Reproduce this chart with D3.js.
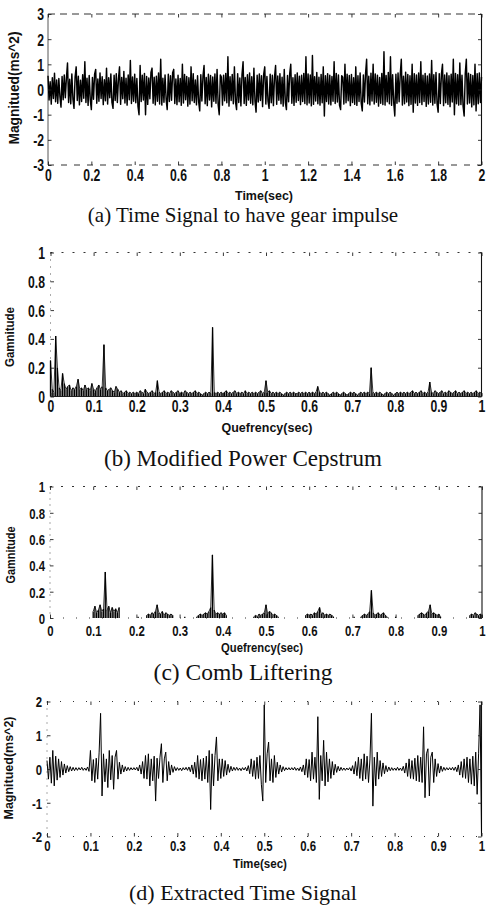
<!DOCTYPE html>
<html><head><meta charset="utf-8">
<script src="https://cdn.jsdelivr.net/npm/d3@7"></script>
<style>body{margin:0;background:#fff}svg{display:block}</style>
</head><body>
<svg id="c" width="486" height="910"></svg>
<script>
// (a) time signal, 0..2 s, sampled every 0.005 s
const timeSignal = [
0.55,-0.42,0.31,-0.58,0.47,-0.36,0.65,-0.49,0.38,-0.55,0.44,-0.29,-0.70,0.52,-0.41,0.58,-0.33,0.46,1.05,-0.52,
0.41,-0.57,0.62,-0.38,-0.75,0.49,0.90,-0.44,0.53,-0.61,0.37,-0.48,0.59,-0.35,1.10,-0.52,0.45,-0.63,0.56,-0.40,
-0.80,0.48,-0.39,0.61,0.80,-0.55,0.42,-0.47,0.66,-0.36,0.51,-0.60,0.39,-0.45,0.85,-0.58,0.47,-0.33,0.62,-0.51,
-0.75,0.57,-0.44,0.63,-0.52,0.41,0.90,-0.59,0.48,-0.37,0.72,-0.54,0.45,-0.62,0.58,-0.41,1.15,-0.56,0.50,-0.47,
0.61,-0.53,0.44,-0.66,-1.00,0.95,-0.48,0.57,-0.42,0.64,-1.00,0.52,-0.59,0.46,-0.37,0.68,0.85,-0.55,0.49,-0.61,
0.53,-0.47,0.66,-0.58,1.20,-0.62,0.45,-0.51,0.58,-0.39,-0.80,0.61,-0.48,0.55,-0.43,0.67,0.80,-0.56,0.42,-0.60,
0.57,-0.49,0.44,-0.63,1.00,-0.54,0.60,-0.41,0.52,-0.66,0.47,-0.58,0.90,-0.45,0.63,-0.52,0.38,-0.61,0.55,-0.48,
-0.85,0.59,-0.46,0.53,0.95,-0.57,0.48,-0.64,0.61,-0.42,0.56,-0.69,0.50,-0.47,0.62,-0.55,0.80,-0.60,-1.00,0.58,
0.49,-0.62,0.57,-0.45,0.64,-0.53,1.30,-0.66,0.51,-0.44,0.60,-0.57,0.90,-0.49,-0.80,0.63,-0.52,0.46,-0.65,0.58,
1.10,-0.56,0.48,-0.63,0.59,-0.42,0.66,-0.55,0.51,-0.61,0.85,-0.47,-0.90,0.57,-0.50,0.62,-0.44,0.55,-0.68,0.60,
0.90,-0.58,0.52,-0.46,-0.75,0.61,-0.53,0.57,-0.64,0.48,0.95,-0.59,0.54,-0.43,0.63,-0.57,0.49,-0.66,0.80,-0.52,
-0.80,0.56,-0.49,0.62,1.00,-0.55,0.47,-0.63,0.59,-0.51,0.66,-0.44,0.53,-0.60,0.57,-0.48,0.64,-0.56,1.30,-0.61,
0.62,-0.54,0.58,-0.65,1.35,-0.59,0.51,-0.46,0.68,-0.57,0.49,-0.62,0.60,-0.53,0.90,-1.05,0.55,-0.48,0.63,-0.58,
0.57,-0.61,0.52,-0.47,1.10,-0.56,0.64,-0.50,0.58,-0.63,-0.80,0.55,0.49,-0.58,1.00,-0.53,0.61,-0.45,0.56,-0.64,
0.60,-0.52,0.47,-0.59,0.90,-0.63,0.55,-0.48,0.66,-0.54,-0.85,0.58,-0.50,0.62,1.20,-0.57,0.53,-0.61,0.65,-0.46,
1.00,-0.58,0.62,-0.51,0.57,-0.66,0.48,-0.55,0.64,-0.60,1.50,-0.62,0.56,-0.49,0.68,-0.57,1.30,-0.63,0.59,-0.52,
-1.05,0.61,-0.55,0.66,-0.49,0.58,1.20,-0.62,0.53,-0.57,0.69,-0.50,0.60,-0.64,0.55,-0.59,1.00,-0.90,0.63,-0.54,
0.58,-0.63,0.66,-0.52,1.10,-0.60,0.57,-0.48,0.64,-0.67,0.54,-0.58,0.62,-0.51,1.15,-0.62,0.59,-0.55,0.68,-0.57,
-0.90,0.63,-0.56,0.60,1.00,-0.64,0.58,-0.53,0.66,-0.59,0.55,-0.68,0.61,-0.50,1.20,-1.00,0.64,-0.57,0.59,-0.62,
1.05,-0.60,0.57,-0.66,-1.05,0.62,1.20,-0.58,0.65,-0.54,0.60,-0.69,0.56,-0.61,1.00,-0.85,0.63,-0.57,0.66,-0.52,
0.50];

// (b) modified power cepstrum, 0..1 s, every 0.004 s
const cepstrum = [
0.25,0.05,0.03,0.42,0.20,0.06,0.04,0.16,0.09,0.05,0.07,0.08,0.04,0.06,0.05,0.07,0.12,0.05,0.06,0.04,0.08,0.05,0.06,0.04,0.09,
0.05,0.04,0.06,0.08,0.05,0.07,0.36,0.06,0.04,0.05,0.06,0.04,0.03,0.07,0.05,0.03,0.04,0.02,0.03,0.04,0.02,0.03,0.02,0.03,0.02,
0.03,0.02,0.04,0.03,0.02,0.05,0.03,0.02,0.03,0.04,0.02,0.03,0.11,0.03,0.02,0.03,0.04,0.02,0.03,0.02,0.04,0.03,0.02,0.03,0.04,
0.02,0.03,0.02,0.04,0.03,0.02,0.03,0.02,0.03,0.04,0.02,0.03,0.02,0.01,0.02,0.03,0.02,0.03,0.02,0.48,0.03,0.02,0.03,0.02,0.03,
0.02,0.03,0.04,0.02,0.03,0.02,0.03,0.04,0.02,0.03,0.02,0.03,0.02,0.04,0.02,0.03,0.02,0.03,0.02,0.03,0.02,0.03,0.04,0.02,0.03,
0.11,0.03,0.04,0.02,0.03,0.02,0.03,0.02,0.03,0.02,0.01,0.02,0.03,0.02,0.03,0.02,0.03,0.02,0.02,0.03,0.02,0.03,0.02,0.03,0.02,
0.03,0.02,0.03,0.02,0.03,0.07,0.03,0.02,0.03,0.02,0.03,0.02,0.01,0.02,0.03,0.02,0.03,0.02,0.01,0.02,0.03,0.02,0.01,0.02,0.03,
0.02,0.03,0.02,0.01,0.02,0.03,0.02,0.03,0.02,0.03,0.02,0.20,0.03,0.02,0.03,0.02,0.03,0.02,0.01,0.02,0.03,0.02,0.03,0.02,0.01,
0.02,0.03,0.02,0.03,0.02,0.03,0.02,0.03,0.02,0.03,0.04,0.02,0.03,0.02,0.03,0.04,0.02,0.03,0.02,0.03,0.10,0.03,0.02,0.04,0.03,
0.02,0.03,0.04,0.02,0.03,0.02,0.04,0.03,0.02,0.03,0.04,0.02,0.03,0.02,0.03,0.04,0.02,0.03,0.02,0.03,0.02,0.03,0.04,0.02,0.03,
0.02];

// (c) comb liftering, 0..1 s, every 0.004 s
const combLiftered = [
0,0,0,0,0,0,0,0,0,0,0,0,0,0,0,0,0,0,0,0,0,0,0,0,0,
0.05,0.09,0.04,0.06,0.10,0.05,0.07,0.35,0.06,0.09,0.04,0.08,0.05,0.07,0.04,0.08,0,0,0,0,0,0,0,0,0,
0,0.01,0,0,0,0,0.02,0.03,0.02,0.04,0.03,0.05,0.10,0.04,0.03,0.05,0.02,0.04,0.03,0.02,0.03,0.02,0,0,0,
0,0,0,0.01,0,0,0,0,0,0,0.01,0.02,0.03,0.02,0.03,0.04,0.03,0.05,0.08,0.48,0.06,0.03,0.04,0.03,0.04,
0.03,0.04,0.02,0,0,0,0,0,0,0,0,0,0,0,0,0,0,0,0.01,0.02,0.01,0.03,0.02,0.03,0.04,
0.10,0.03,0.05,0.04,0.02,0.03,0.02,0.01,0,0,0,0,0,0,0,0,0,0,0,0,0,0,0,0.02,0.03,
0.02,0.03,0.02,0.04,0.03,0.05,0.08,0.03,0.04,0.02,0.03,0.02,0.03,0.02,0.01,0,0,0,0,0,0,0,0,0,0,
0,0.01,0,0,0,0.01,0.02,0.03,0.02,0.03,0.05,0.21,0.04,0.02,0.03,0.04,0.02,0.03,0.04,0.02,0.01,0,0,0,0,
0.01,0,0,0,0,0,0,0,0,0,0,0,0,0.02,0.03,0.04,0.03,0.02,0.04,0.05,0.10,0.03,0.04,0.03,0.02,
0.03,0.01,0,0,0,0,0,0,0,0,0,0,0,0,0,0,0,0,0.02,0.03,0.02,0.04,0.03,0.02,0.03,
0.02];

// (d) extracted time signal, 0..1 s, every 1/300 s
const extracted = [
0.25,-0.30,0.35,-0.42,0.55,-0.50,0.38,-0.33,0.30,-0.25,0.22,-0.18,0.15,-0.12,0.10,-0.08,0.07,-0.06,0.05,-0.05,0.04,-0.04,0.04,-0.03,0.05,-0.04,0.03,-0.04,0.06,-0.07,
0.55,-0.35,0.28,-0.40,0.32,-0.30,0.50,1.65,-0.80,0.45,-0.38,0.30,-0.55,0.55,-0.32,0.40,-0.60,0.35,0.55,-0.30,0.20,-0.15,0.12,-0.09,0.07,-0.06,0.05,-0.04,0.04,-0.03,
0.04,-0.03,0.05,-0.06,0.12,-0.15,0.22,-0.28,0.40,-0.30,0.45,-0.50,0.30,-0.35,0.38,-0.95,0.32,-0.28,0.35,0.75,-0.40,0.30,0.50,-0.35,0.22,-0.18,0.12,-0.10,0.07,-0.05,
0.04,-0.04,0.03,-0.05,0.04,-0.03,0.05,-0.04,0.06,-0.08,0.12,-0.15,0.20,-0.25,0.40,-0.30,0.28,-0.35,0.32,-0.30,0.38,-0.40,0.55,-1.20,0.45,-0.50,0.40,0.95,-0.35,0.30,
-0.28,0.30,-0.22,0.25,-0.18,0.14,-0.10,0.08,-0.06,0.05,-0.04,0.05,-0.04,0.03,-0.05,0.04,-0.03,0.05,-0.06,0.10,-0.14,0.30,-0.22,0.25,-0.30,0.35,-0.28,0.40,-0.45,-0.95,
1.90,-0.40,0.45,0.80,-0.35,0.30,-0.40,0.40,-0.25,0.20,-0.15,0.12,-0.09,0.07,-0.05,0.04,-0.03,0.04,-0.03,0.04,-0.03,0.05,-0.04,0.03,-0.05,0.06,-0.08,0.12,-0.18,0.30,
-0.25,0.28,-0.35,0.50,-0.30,0.35,-0.40,1.55,-0.90,0.40,-0.35,0.85,-0.50,0.50,-0.38,0.30,-0.28,0.22,-0.18,0.14,-0.10,0.08,-0.06,0.05,-0.04,0.03,-0.04,0.03,-0.03,0.04,
-0.06,0.10,-0.15,0.22,-0.20,0.35,-0.28,0.30,-0.35,0.45,-0.30,0.38,-0.40,0.30,1.65,-1.10,0.35,-0.50,0.50,-0.30,0.25,-0.22,0.18,-0.14,0.10,-0.08,0.06,-0.05,0.04,-0.04,
0.03,-0.04,0.05,-0.04,0.03,-0.05,0.08,-0.12,0.18,-0.22,0.30,-0.28,0.25,-0.30,0.32,-0.35,0.40,-0.38,0.35,-0.40,1.25,-0.85,0.45,0.60,-0.80,0.35,0.50,-0.40,0.30,-0.22,
0.16,-0.12,0.09,-0.07,0.05,-0.04,0.04,-0.03,0.04,-0.03,0.05,-0.04,0.06,-0.08,0.12,-0.18,0.22,-0.25,0.30,-0.28,0.35,-0.40,0.30,-0.45,0.38,-0.50,0.50,-0.75,0.45,1.90,
-1.90];

const timeTicks2 = [0,0.2,0.4,0.6,0.8,1,1.2,1.4,1.6,1.8,2];
const magTicks3 = [-3,-2,-1,0,1,2,3];
const quefTicks = [0,0.1,0.2,0.3,0.4,0.5,0.6,0.7,0.8,0.9,1];
const gamTicks = [0,0.2,0.4,0.6,0.8,1];
const magTicks2 = [-2,-1,0,1,2];
const captions = ["(a) Time Signal to have gear impulse","(b) Modified Power Cepstrum","(c) Comb Liftering","(d) Extracted Time Signal"];

const svg = d3.select('#c');
svg.append('rect').attr('width',486).attr('height',910).attr('fill','#fff');
const SANS = '"Liberation Sans", Arial, Helvetica, sans-serif';
const SERIF = '"Liberation Serif", "Times New Roman", serif';
const fmt = d => String(+d.toFixed(1));

const panels = [
 {data: timeSignal, kind:'line', lw:1.45, xd:[0,2], yd:[-3,3], x0:48, x1:481.5, yt:14, yb:165, xt:timeTicks2, yT:magTicks3,
  xBase:181, yRight:44, fs:16.5, sx:0.74, xlabel:'Time(sec)', xlx:264, xly:199.5, xlfs:13.5, xlw:58,
  ylabel:'Magnitued(ms^2)', ylx:19, yly:88, ylfs:14, ylw:113, cap:captions[0], capY:222, capFs:21,
  topDash:'7,5', botDash:'6,7', leftDash:null},
 {data: cepstrum, kind:'stem', xd:[0,1], yd:[0,1], x0:50.5, x1:481.5, yt:252.5, yb:396.5, xt:quefTicks, yT:gamTicks,
  xBase:412, yRight:45, fs:16.5, sx:0.74, xlabel:'Quefrency(sec)', xlx:267, xly:432, xlfs:13.5, xlw:91,
  ylabel:'Gamnitude', ylx:14, yly:337, ylfs:13.5, ylw:60, cap:captions[1], capY:466, capFs:23,
  topDash:'2,9', botDash:null, leftDash:'1,6'},
 {data: combLiftered, kind:'stem', xd:[0,1], yd:[0,1], x0:50, x1:482, yt:486.5, yb:618, xt:quefTicks, yT:gamTicks,
  xBase:636, yRight:45, fs:15, sx:0.76, xlabel:'Quefrency(sec)', xlx:262, xly:652, xlfs:12.5, xlw:82,
  ylabel:'Gamnitude', ylx:15, yly:555, ylfs:12.5, ylw:57, cap:captions[2], capY:680, capFs:23.5,
  topDash:'2,9', botDash:'1,12', leftDash:'1,5'},
 {data: extracted, kind:'line', lw:1.0, xd:[0,1], yd:[-2,2], x0:47, x1:481.5, yt:701.5, yb:836.5, xt:quefTicks, yT:magTicks2,
  xBase:851, yRight:42, fs:15, sx:0.76, xlabel:'Time(sec)', xlx:260, xly:868, xlfs:12.5, xlw:54,
  ylabel:'Magnitued(ms^2)', ylx:13, yly:768, ylfs:12.5, ylw:103, cap:captions[3], capY:900, capFs:22,
  topDash:'1,12', botDash:'1,12', leftDash:'1,6'}
];

panels.forEach(p => {
  const g = svg.append('g');
  const x = d3.scaleLinear().domain(p.xd).range([p.x0, p.x1]);
  const y = d3.scaleLinear().domain(p.yd).range([p.yb, p.yt]);
  const n = p.data.length;
  const pts = p.data.map((v,i) => ({t: p.xd[0] + i*(p.xd[1]-p.xd[0])/(n-1), v}));

  const box = (x1,y1,x2,y2,col,w,dash) => {
    const l = g.append('line').attr('x1',x1).attr('y1',y1).attr('x2',x2).attr('y2',y2)
      .attr('stroke',col).attr('stroke-width',w);
    if (dash) l.attr('stroke-dasharray',dash);
  };
  box(p.x0,p.yt,p.x1,p.yt,'#333',1,p.topDash);
  box(p.x0,p.yb,p.x1,p.yb,'#333',1,p.botDash);
  box(p.x0,p.yt,p.x0,p.yb,'#444',0.9,p.leftDash);
  box(p.x1,p.yt,p.x1,p.yb,'#111',1.1,null);

  if (p.kind === 'line') {
    const line = d3.line().x(d => x(d.t)).y(d => y(d.v));
    g.append('path').datum(pts).attr('d', line).attr('fill','none')
      .attr('stroke','#000').attr('stroke-width',p.lw).attr('stroke-linejoin','round');
  } else {
    g.append('g').selectAll('line').data(pts.filter(d => d.v > 0)).join('line')
      .attr('x1', d => x(d.t)).attr('x2', d => x(d.t))
      .attr('y1', y(0)).attr('y2', d => y(d.v))
      .attr('stroke','#000').attr('stroke-width',1.3);
    g.append('path').datum(pts).attr('d', d3.line().defined(d => d.v > 0).x(d => x(d.t)).y(d => y(d.v)))
      .attr('fill','none').attr('stroke','#000').attr('stroke-width',0.8);
  }

  const tickStyle = s => { s.select('.domain').remove(); s.selectAll('.tick line').attr('stroke','#222').attr('stroke-width',0.9); };
  g.append('g').attr('transform',`translate(0,${p.yb})`)
    .call(d3.axisBottom(x).tickValues(p.xt).tickFormat(fmt).tickSize(-3.5))
    .call(tickStyle)
    .call(s => s.selectAll('text').attr('y', p.xBase - p.yb).attr('dy',0)
      .attr('font-family',SANS).attr('font-weight','bold').attr('font-size',p.fs)
      .attr('fill','#111').attr('transform',`scale(${p.sx},1)`));
  g.append('g').attr('transform',`translate(0,${p.yt})`)
    .call(d3.axisTop(x).tickValues(p.xt).tickFormat('').tickSize(-3.5)).call(tickStyle);
  g.append('g').attr('transform',`translate(${p.x0},0)`)
    .call(d3.axisLeft(y).tickValues(p.yT).tickFormat(fmt).tickSize(-3.5))
    .call(tickStyle)
    .call(s => s.selectAll('text').attr('x', -(p.x0 - p.yRight)/p.sx).attr('dy','0.36em')
      .attr('font-family',SANS).attr('font-weight','bold').attr('font-size',p.fs)
      .attr('fill','#111').attr('transform',`scale(${p.sx},1)`));
  g.append('g').attr('transform',`translate(${p.x1},0)`)
    .call(d3.axisRight(y).tickValues(p.yT).tickFormat('').tickSize(-3.5)).call(tickStyle);

  g.append('text').attr('x',p.xlx).attr('y',p.xly).attr('text-anchor','middle')
    .attr('font-family',SANS).attr('font-weight','bold').attr('font-size',p.xlfs).attr('fill','#111')
    .attr('textLength',p.xlw).attr('lengthAdjust','spacingAndGlyphs').text(p.xlabel);
  g.append('text').attr('transform',`translate(${p.ylx},${p.yly}) rotate(-90)`).attr('text-anchor','middle')
    .attr('font-family',SANS).attr('font-weight','bold').attr('font-size',p.ylfs).attr('fill','#111')
    .attr('textLength',p.ylw).attr('lengthAdjust','spacingAndGlyphs').text(p.ylabel);
  g.append('text').attr('x',243).attr('y',p.capY).attr('text-anchor','middle')
    .attr('font-family',SERIF).attr('font-size',p.capFs).attr('fill','#111').text(p.cap);
});
</script>
</body></html>
